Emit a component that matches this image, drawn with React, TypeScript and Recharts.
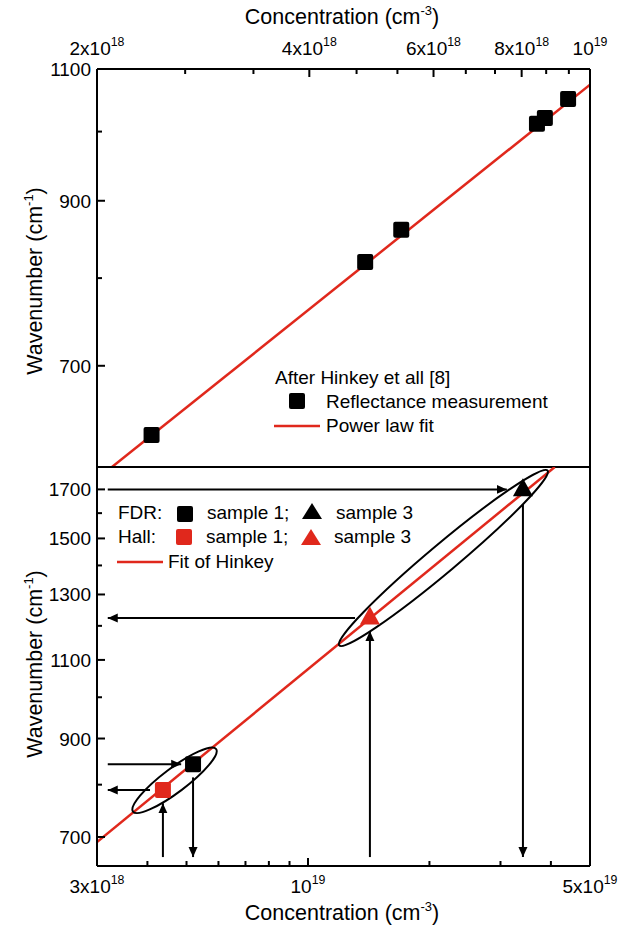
import React from "react";
import {
  ComposedChart,
  Line,
  ReferenceDot,
  ReferenceLine,
  Scatter,
  XAxis,
  YAxis,
} from "recharts";

const FONT = "'Liberation Sans', Arial, Helvetica, sans-serif";
const RED = "#e0281c";

// top panel: reflectance data after Hinkey et al.
const reflConc = [2.39e18, 4.8e18, 5.4e18, 8.41e18, 8.63e18, 9.31e18];
const reflWave = [630, 820, 861, 1012, 1021, 1051];
const powerFitConc = [2.1e18, 1e19];
const powerFitWave = [600, 1074];

const topXTicks = [
  2e18, 2.667e18, 3.333e18, 4e18, 4.667e18, 5.333e18, 6e18, 6.667e18, 7.333e18, 8e18, 8.667e18,
  9.333e18, 1e19,
];
const topXLabels = ["2x10^18", "", "", "4x10^18", "", "", "6x10^18", "", "", "8x10^18", "", "", "10^19"];
const topYTicks = [600, 700, 800, 900, 1000, 1100];
const topYLabels = ["", "700", "", "900", "", "1100"];

// bottom panel: FDR and Hall samples
const fdrS1Conc = [5.19e18];
const fdrS1Wave = [843];
const hallS1Conc = [4.37e18];
const hallS1Wave = [789];
const fdrS3Conc = [3.41e19];
const fdrS3Wave = [1705];
const hallS3Conc = [1.424e19];
const hallS3Wave = [1229];
const hinkeyFitConc = [3e18, 4.09e19];
const hinkeyFitWave = [691, 1800];

// arrows: [from, to]
const arrowConc = [
  [3.19e18, 3.11e19],
  [1.308e19, 3.19e18],
  [1.424e19, 1.424e19],
  [3.41e19, 3.41e19],
  [3.19e18, 4.85e18],
  [4.06e18, 3.19e18],
  [4.37e18, 4.37e18],
  [5.19e18, 5.19e18],
];
const arrowWave = [
  [1700, 1700],
  [1224, 1224],
  [665, 1184],
  [1637, 665],
  [843, 843],
  [789, 789],
  [665, 763],
  [815, 665],
];

// ellipses grouping samples
const ellipseConc = [4.67e18, 2.166e19];
const ellipseWave = [809, 1427];

const bottomXTicks = [3e18, 4e18, 5e18, 6e18, 7e18, 8e18, 9e18, 1e19, 2e19, 3e19, 4e19, 5e19];
const bottomXLabels = ["3x10^18", "", "", "", "", "", "", "10^19", "", "", "", "5x10^19"];
const bottomYTicks = [700, 800, 900, 1000, 1100, 1200, 1300, 1400, 1500, 1600, 1700];
const bottomYLabels = ["700", "", "900", "", "1100", "", "1300", "", "1500", "", "1700"];

const rightTicks = [0, 1, 2, 3, 4, 5, 6, 7, 8, 9, 10];

const pts = (c: number[], w: number[]) => c.map((v, i) => ({ c: v, w: w[i] }));

function SupText({ x, y, text, anchor, size }: { x: number; y: number; text: string; anchor: string; size: number }) {
  const [base, exp] = text.split("^");
  return (
    <text x={x} y={y} textAnchor={anchor as any} fontSize={size} fontFamily={FONT} fill="#000">
      {base}
      {exp && (
        <tspan dy={-size * 0.45} fontSize={size * 0.65}>
          {exp}
        </tspan>
      )}
    </text>
  );
}

const topXTick = (props: any) => {
  const { x, y, index } = props;
  const label = topXLabels[index];
  return (
    <g>
      <line x1={x} y1={y} x2={x} y2={y + (label ? 8 : 5)} stroke="#000" strokeWidth={2} />
      {label && <SupText x={x} y={y - 14} text={label} anchor="middle" size={19} />}
    </g>
  );
};

const bottomXTick = (props: any) => {
  const { x, y, index } = props;
  const label = bottomXLabels[index];
  return (
    <g>
      <line x1={x} y1={y} x2={x} y2={y - (label ? 8 : 5)} stroke="#000" strokeWidth={2} />
      {label && <SupText x={x} y={y + 27} text={label} anchor="middle" size={19} />}
    </g>
  );
};

const leftYTick = (labels: string[]) => (props: any) => {
  const { x, y, index } = props;
  const label = labels[index];
  return (
    <g>
      <line x1={x} y1={y} x2={x + (label ? 8 : 5)} y2={y} stroke="#000" strokeWidth={2} />
      {label && (
        <text x={x - 6} y={y + 7} textAnchor="end" fontSize={19} fontFamily={FONT} fill="#000">
          {label}
        </text>
      )}
    </g>
  );
};

const rightYTick = (props: any) => {
  const { x, y } = props;
  return <line x1={x} y1={y} x2={x - 5} y2={y} stroke="#000" strokeWidth={1.5} />;
};

const square = (fill: string) => (p: any) => (
  <rect x={p.cx - 8} y={p.cy - 8} width={16} height={16} rx={2} fill={fill} />
);
const triangle = (fill: string) => (p: any) => (
  <polygon points={`${p.cx},${p.cy - 10} ${p.cx - 10},${p.cy + 8} ${p.cx + 10},${p.cy + 8}`} fill={fill} />
);

const ellipseShape = (rx: number, ry: number, angle: number) => (p: any) => (
  <ellipse
    cx={p.cx}
    cy={p.cy}
    rx={rx}
    ry={ry}
    fill="none"
    stroke="#000"
    strokeWidth={2}
    transform={`rotate(${angle} ${p.cx} ${p.cy})`}
  />
);

const axisLine = { stroke: "#000", strokeWidth: 2 };

function TopPanel() {
  return (
    <ComposedChart width={623} height={469} margin={{ top: 0, right: 0, bottom: 2, left: 0 }}>
      <XAxis
        dataKey="c"
        type="number"
        scale="log"
        orientation="top"
        domain={[2e18, 1e19]}
        allowDataOverflow
        ticks={topXTicks}
        interval={0}
        height={69}
        tickSize={0}
        tickMargin={0}
        tickLine={false}
        axisLine={axisLine}
        tick={topXTick}
      />
      <YAxis
        dataKey="w"
        type="number"
        scale="log"
        domain={[600, 1100]}
        allowDataOverflow
        ticks={topYTicks}
        interval={0}
        width={97}
        tickSize={0}
        tickMargin={0}
        tickLine={false}
        axisLine={axisLine}
        tick={leftYTick(topYLabels)}
      />
      <YAxis
        yAxisId="r"
        orientation="right"
        type="number"
        domain={[0, 10]}
        ticks={rightTicks}
        interval={0}
        width={33}
        tickSize={0}
        tickMargin={0}
        tickLine={false}
        axisLine={axisLine}
        tick={rightYTick}
      />
      <ReferenceLine y={600} stroke="#000" strokeWidth={2} />
      <Scatter data={pts(reflConc, reflWave)} dataKey="w" shape={square("#000")} isAnimationActive={false} />
      <Line
        data={pts(powerFitConc, powerFitWave)}
        dataKey="w"
        stroke={RED}
        strokeWidth={2.5}
        dot={false}
        activeDot={false}
        isAnimationActive={false}
      />
    </ComposedChart>
  );
}

function BottomPanel() {
  return (
    <ComposedChart width={623} height={465} margin={{ top: 2, right: 0, bottom: 0, left: 0 }}>
      <XAxis
        dataKey="c"
        type="number"
        scale="log"
        domain={[3e18, 5e19]}
        allowDataOverflow
        ticks={bottomXTicks}
        interval={0}
        height={64}
        tickSize={0}
        tickMargin={0}
        tickLine={false}
        axisLine={axisLine}
        tick={bottomXTick}
      />
      <YAxis
        dataKey="w"
        type="number"
        scale="log"
        domain={[650, 1800]}
        allowDataOverflow
        ticks={bottomYTicks}
        interval={0}
        width={97}
        tickSize={0}
        tickMargin={0}
        tickLine={false}
        axisLine={axisLine}
        tick={leftYTick(bottomYLabels)}
      />
      <YAxis
        yAxisId="r"
        orientation="right"
        type="number"
        domain={[0, 10]}
        ticks={rightTicks}
        interval={0}
        width={33}
        tickSize={0}
        tickMargin={0}
        tickLine={false}
        axisLine={axisLine}
        tick={rightYTick}
      />
      <ReferenceLine y={1800} stroke="#000" strokeWidth={2} />
      {arrowConc.map((c, i) => (
        <Line
          key={i}
          data={pts(c, arrowWave[i])}
          dataKey="w"
          stroke="#000"
          strokeWidth={2}
          dot={false}
          activeDot={false}
          markerEnd="url(#arrowHead)"
          isAnimationActive={false}
        />
      ))}
      <ReferenceDot x={ellipseConc[0]} y={ellipseWave[0]} shape={ellipseShape(52, 12, -37)} />
      <ReferenceDot x={ellipseConc[1]} y={ellipseWave[1]} shape={ellipseShape(136, 14, -40)} />
      <Scatter data={pts(fdrS1Conc, fdrS1Wave)} dataKey="w" shape={square("#000")} isAnimationActive={false} />
      <Scatter data={pts(hallS1Conc, hallS1Wave)} dataKey="w" shape={square(RED)} isAnimationActive={false} />
      <Scatter data={pts(fdrS3Conc, fdrS3Wave)} dataKey="w" shape={triangle("#000")} isAnimationActive={false} />
      <Scatter data={pts(hallS3Conc, hallS3Wave)} dataKey="w" shape={triangle(RED)} isAnimationActive={false} />
      <Line
        data={pts(hinkeyFitConc, hinkeyFitWave)}
        dataKey="w"
        stroke={RED}
        strokeWidth={2.5}
        dot={false}
        activeDot={false}
        isAnimationActive={false}
      />
    </ComposedChart>
  );
}

const txt = { fontFamily: FONT, fill: "#000" };

function Overlay() {
  return (
    <svg width={623} height={930} style={{ position: "absolute", left: 0, top: 0, pointerEvents: "none" }}>
      <text x={342} y={24} textAnchor="middle" fontSize={21.5} {...txt}>
        Concentration (cm<tspan dy={-9} fontSize={13}>-3</tspan>
        <tspan dy={9}>)</tspan>
      </text>
      <text x={342} y={920} textAnchor="middle" fontSize={21.5} {...txt}>
        Concentration (cm<tspan dy={-9} fontSize={13}>-3</tspan>
        <tspan dy={9}>)</tspan>
      </text>
      <text x={42} y={281} textAnchor="middle" fontSize={21.5} transform="rotate(-90 42 281)" {...txt}>
        Wavenumber (cm<tspan dy={-9} fontSize={13}>-1</tspan>
        <tspan dy={9}>)</tspan>
      </text>
      <text x={42} y={664} textAnchor="middle" fontSize={21.5} transform="rotate(-90 42 664)" {...txt}>
        Wavenumber (cm<tspan dy={-9} fontSize={13}>-1</tspan>
        <tspan dy={9}>)</tspan>
      </text>

      {/* top legend */}
      <text x={275} y={384} fontSize={19} {...txt}>After Hinkey et all [8]</text>
      <rect x={289} y={393} width={16} height={16} rx={2} fill="#000" />
      <text x={326} y={408} fontSize={19} {...txt}>Reflectance measurement</text>
      <line x1={274} y1={426} x2={320} y2={426} stroke={RED} strokeWidth={2.5} />
      <text x={326} y={432} fontSize={19} {...txt}>Power law fit</text>

      {/* bottom legend */}
      <text x={118} y={519} fontSize={19} {...txt}>FDR:</text>
      <rect x={177} y={506} width={16} height={16} rx={2} fill="#000" />
      <text x={207} y={519} fontSize={19} {...txt}>sample 1;</text>
      <polygon points="312,503 302,519 322,519" fill="#000" />
      <text x={336} y={519} fontSize={19} {...txt}>sample 3</text>
      <text x={118} y={543} fontSize={19} {...txt}>Hall:</text>
      <rect x={176} y={529} width={16} height={16} rx={2} fill={RED} />
      <text x={206} y={543} fontSize={19} {...txt}>sample 1;</text>
      <polygon points="311,529 301,545 321,545" fill={RED} />
      <text x={334} y={543} fontSize={19} {...txt}>sample 3</text>
      <line x1={117} y1={562} x2={163} y2={562} stroke={RED} strokeWidth={2.5} />
      <text x={168} y={568} fontSize={19} {...txt}>Fit of Hinkey</text>
    </svg>
  );
}

export default function App() {
  return (
    <div style={{ position: "absolute", left: 0, top: 0, width: 623, height: 930, background: "#fff" }}>
      <svg width={0} height={0} style={{ position: "absolute" }}>
        <defs>
          <marker
            id="arrowHead"
            viewBox="0 0 10 10"
            refX={10}
            refY={5}
            markerWidth={10}
            markerHeight={10}
            markerUnits="userSpaceOnUse"
            orient="auto"
          >
            <path d="M0,0.5 L10,5 L0,9.5 z" fill="#000" />
          </marker>
        </defs>
      </svg>
      <div style={{ position: "absolute", left: 0, top: 0 }}>
        <TopPanel />
      </div>
      <div style={{ position: "absolute", left: 0, top: 465 }}>
        <BottomPanel />
      </div>
      <Overlay />
    </div>
  );
}
